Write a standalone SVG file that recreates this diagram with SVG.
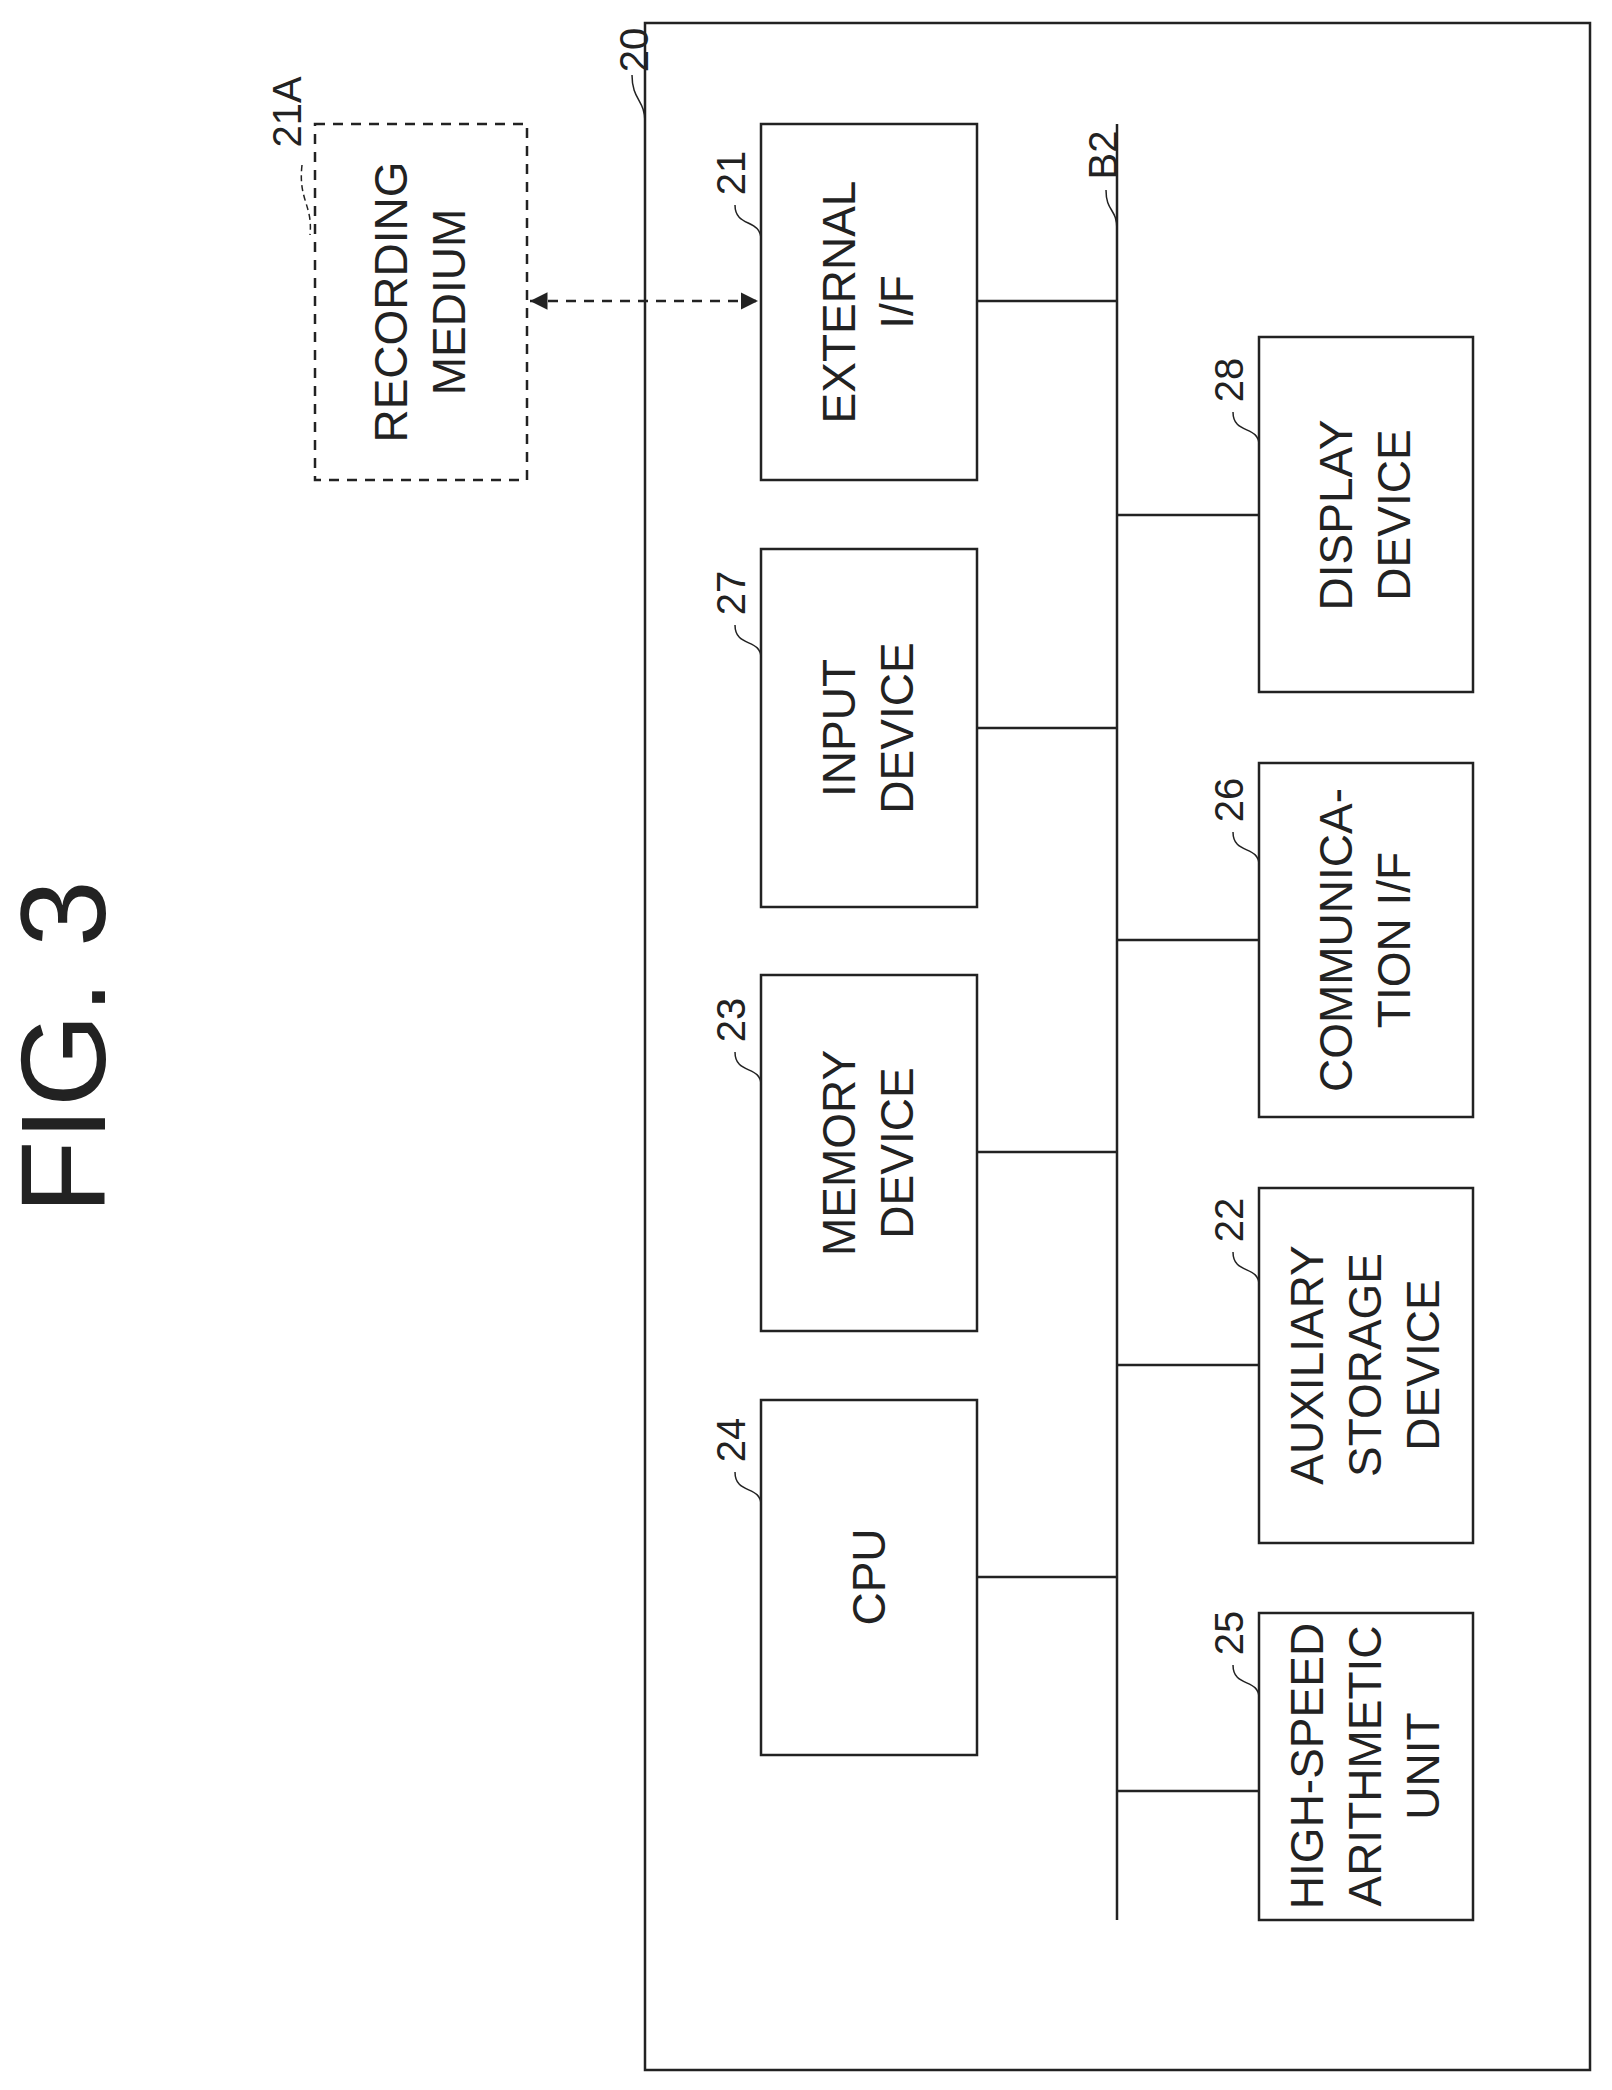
<svg xmlns="http://www.w3.org/2000/svg" width="1612" height="2090" viewBox="0 0 1612 2090">
<defs>
<style>
.b{fill:none;stroke:#222;stroke-width:2.5}
.d{fill:none;stroke:#222;stroke-width:2.5;stroke-dasharray:10 8}
.c{fill:none;stroke:#222;stroke-width:2.5}
.l{fill:none;stroke:#222;stroke-width:1.5}
.t{font-family:"Liberation Sans",Arial,sans-serif;font-size:46px;fill:#222;text-anchor:middle}
.n{font-family:"Liberation Sans",Arial,sans-serif;font-size:40px;fill:#222;text-anchor:middle}
</style>
<marker id="a" viewBox="0 0 10 10" refX="10" refY="5" markerWidth="7" markerHeight="7" orient="auto-start-reverse"><path d="M0,0 L10,5 L0,10 z" fill="#222"/></marker>
</defs>
<rect width="1612" height="2090" fill="#fff"/>
<text class="t" style="font-size:120px" transform="translate(105,1047) rotate(-90)">FIG. 3</text>
<g id="n20"><rect class="b" x="645" y="23" width="945" height="2047"/><text class="n" transform="translate(648,50) rotate(-90)">20</text><path class="l" d="M632,75 C632,100 645,100 645,122"/></g>
<g id="n21A"><rect class="d" x="315" y="124" width="212" height="356"/><text class="t" transform="translate(421,302) rotate(-90)"><tspan x="0" y="-14">RECORDING</tspan><tspan x="0" y="44">MEDIUM</tspan></text><text class="n" transform="translate(301,112) rotate(-90)">21A</text><path class="l" d="M302,165 C298,200 313,205 310,235" stroke-dasharray="6 4"/></g>
<g id="n21"><rect class="b" x="761" y="124" width="216" height="356"/><text class="t" transform="translate(869,302) rotate(-90)"><tspan x="0" y="-14">EXTERNAL</tspan><tspan x="0" y="44">I/F</tspan></text><text class="n" transform="translate(745,173) rotate(-90)">21</text><path class="l" d="M735,205 C735,228 761,218 761,240"/></g>
<g id="n27"><rect class="b" x="761" y="549" width="216" height="358"/><text class="t" transform="translate(869,728) rotate(-90)"><tspan x="0" y="-14">INPUT</tspan><tspan x="0" y="44">DEVICE</tspan></text><text class="n" transform="translate(745,593) rotate(-90)">27</text><path class="l" d="M735,625 C735,648 761,638 761,658"/></g>
<g id="n23"><rect class="b" x="761" y="975" width="216" height="356"/><text class="t" transform="translate(869,1153) rotate(-90)"><tspan x="0" y="-14">MEMORY</tspan><tspan x="0" y="44">DEVICE</tspan></text><text class="n" transform="translate(745,1020) rotate(-90)">23</text><path class="l" d="M735,1052 C735,1075 761,1065 761,1085"/></g>
<g id="n24"><rect class="b" x="761" y="1400" width="216" height="355"/><text class="t" transform="translate(885,1577) rotate(-90)">CPU</text><text class="n" transform="translate(745,1440) rotate(-90)">24</text><path class="l" d="M735,1472 C735,1495 761,1485 761,1505"/></g>
<g id="n28"><rect class="b" x="1259" y="337" width="214" height="355"/><text class="t" transform="translate(1366,515) rotate(-90)"><tspan x="0" y="-14">DISPLAY</tspan><tspan x="0" y="44">DEVICE</tspan></text><text class="n" transform="translate(1243,380) rotate(-90)">28</text><path class="l" d="M1233,412 C1233,435 1259,425 1259,445"/></g>
<g id="n26"><rect class="b" x="1259" y="763" width="214" height="354"/><text class="t" transform="translate(1366,940) rotate(-90)"><tspan x="0" y="-14">COMMUNICA-</tspan><tspan x="0" y="44">TION I/F</tspan></text><text class="n" transform="translate(1243,800) rotate(-90)">26</text><path class="l" d="M1233,832 C1233,855 1259,845 1259,865"/></g>
<g id="n22"><rect class="b" x="1259" y="1188" width="214" height="355"/><text class="t" transform="translate(1366,1365) rotate(-90)"><tspan x="0" y="-43">AUXILIARY</tspan><tspan x="0" y="15">STORAGE</tspan><tspan x="0" y="73">DEVICE</tspan></text><text class="n" transform="translate(1243,1220) rotate(-90)">22</text><path class="l" d="M1233,1252 C1233,1275 1259,1265 1259,1285"/></g>
<g id="n25"><rect class="b" x="1259" y="1613" width="214" height="307"/><text class="t" transform="translate(1366,1766) rotate(-90)"><tspan x="0" y="-43">HIGH-SPEED</tspan><tspan x="0" y="15">ARITHMETIC</tspan><tspan x="0" y="73">UNIT</tspan></text><text class="n" transform="translate(1243,1633) rotate(-90)">25</text><path class="l" d="M1233,1665 C1233,1688 1259,1678 1259,1698"/></g>
<g id="bus"><line class="c" x1="1117" y1="124" x2="1117" y2="1920"/><text class="n" transform="translate(1117,155) rotate(-90)">B2</text><path class="l" d="M1106,190 C1106,212 1117,208 1117,230"/></g>
<g id="connectors">
<line class="c" x1="977" y1="301" x2="1117" y2="301"/>
<line class="c" x1="977" y1="728" x2="1117" y2="728"/>
<line class="c" x1="977" y1="1152" x2="1117" y2="1152"/>
<line class="c" x1="977" y1="1577" x2="1117" y2="1577"/>
<line class="c" x1="1117" y1="515" x2="1259" y2="515"/>
<line class="c" x1="1117" y1="940" x2="1259" y2="940"/>
<line class="c" x1="1117" y1="1365" x2="1259" y2="1365"/>
<line class="c" x1="1117" y1="1791" x2="1259" y2="1791"/>
<line class="d" x1="530" y1="301" x2="758" y2="301" marker-start="url(#a)" marker-end="url(#a)"/>
</g>
</svg>
